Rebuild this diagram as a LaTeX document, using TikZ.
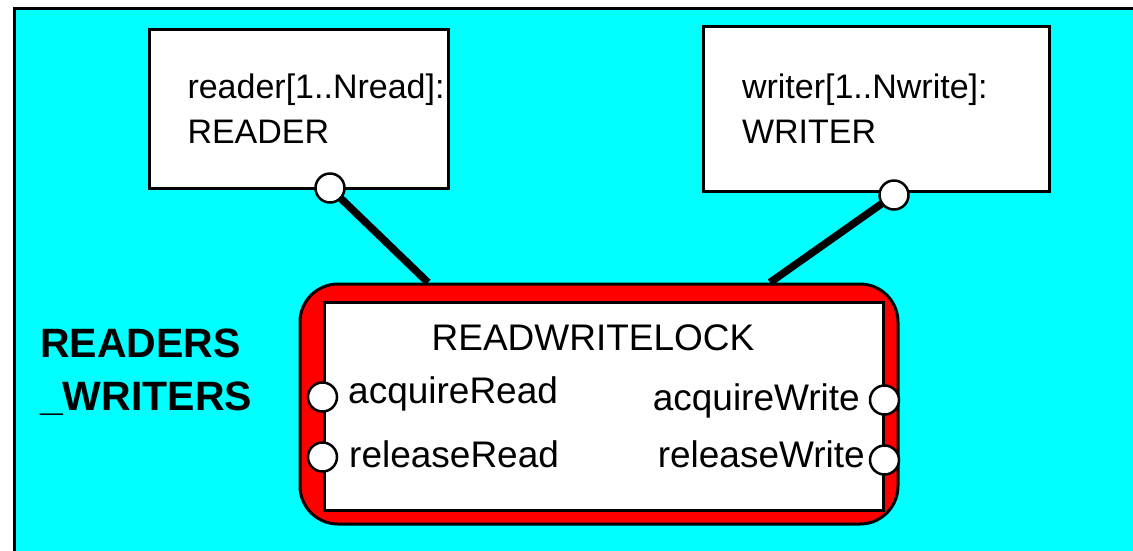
\documentclass[tikz,border=0pt]{standalone}
\usepackage{fontspec}
\setmainfont{Liberation Sans}
\usepackage{tikz}

\definecolor{sysbg}{RGB}{0,255,255}

\tikzset{
  procbox/.style={draw,fill=white,line width=3pt,align=left,inner ysep=0pt,
    font=\fontsize{34}{45}\selectfont},
  port/.style={circle,draw,fill=white,line width=2.5pt,minimum size=29pt,inner sep=0pt},
  link/.style={line width=7.5pt},
  lbl/.style={inner sep=0pt,font=\fontsize{37}{40}\selectfont}
}

\begin{document}
\begin{tikzpicture}[x=1pt,y=-1pt]
          \useasboundingbox (0,0) rectangle (1133,550);
          \clip (0,0) rectangle (1133,550);
          \draw[fill=sysbg,line width=3pt] (14,8) rectangle (1150,570);

          \node[procbox,minimum width=299pt,minimum height=159pt,text width=223pt,inner xsep=38pt]
            (reader) at (299,108.5) {reader[1..Nread]:\\READER};
          \node[procbox,minimum width=346pt,minimum height=165pt,text width=268pt,inner xsep=39pt]
            (writer) at (876,108.5) {writer[1..Nwrite]:\\WRITER};

          \node[draw,fill=red,line width=3pt,rounded corners=38pt,minimum width=598pt,minimum height=240pt]
            (lock) at (599,404) {};
          \node[draw,fill=white,line width=3pt,minimum width=559pt,minimum height=208pt]
            (inner) at (603.5,406) {};

          \coordinate (rp) at (330,188);
          \coordinate (wp) at (894,195);
          \draw[link] (rp) -- (lock.north -| 428,0);
          \draw[link] (wp) -- (lock.north -| 770,0);
          \node[port] (rport) at (rp) {};
          \node[port] (wport) at (wp) {};

          \node[lbl,anchor=base] (title) at (593,350) {READWRITELOCK};
          \node[lbl,anchor=base west] (acqr) at (348,403) {acquireRead};
          \node[lbl,anchor=base west] (relr) at (349,467) {releaseRead};
          \node[lbl,anchor=base east] (acqw) at (860,410) {acquireWrite};
          \node[lbl,anchor=base east] (relw) at (865,467) {releaseWrite};

          \foreach \n/\y in {ar/397,rr/457} {
            \node[port] (\n) at (inner.west |- 0,\y) {};
          }
          \foreach \n/\y in {aw/400,rw/460} {
            \node[port] (\n) at (inner.east |- 0,\y) {};
          }

          \node[lbl,anchor=base west,align=left,font=\fontsize{41}{53}\selectfont\bfseries]
            (sysname) at (40,410) {READERS\\\_WRITERS};
        \end{tikzpicture}
\end{document}
